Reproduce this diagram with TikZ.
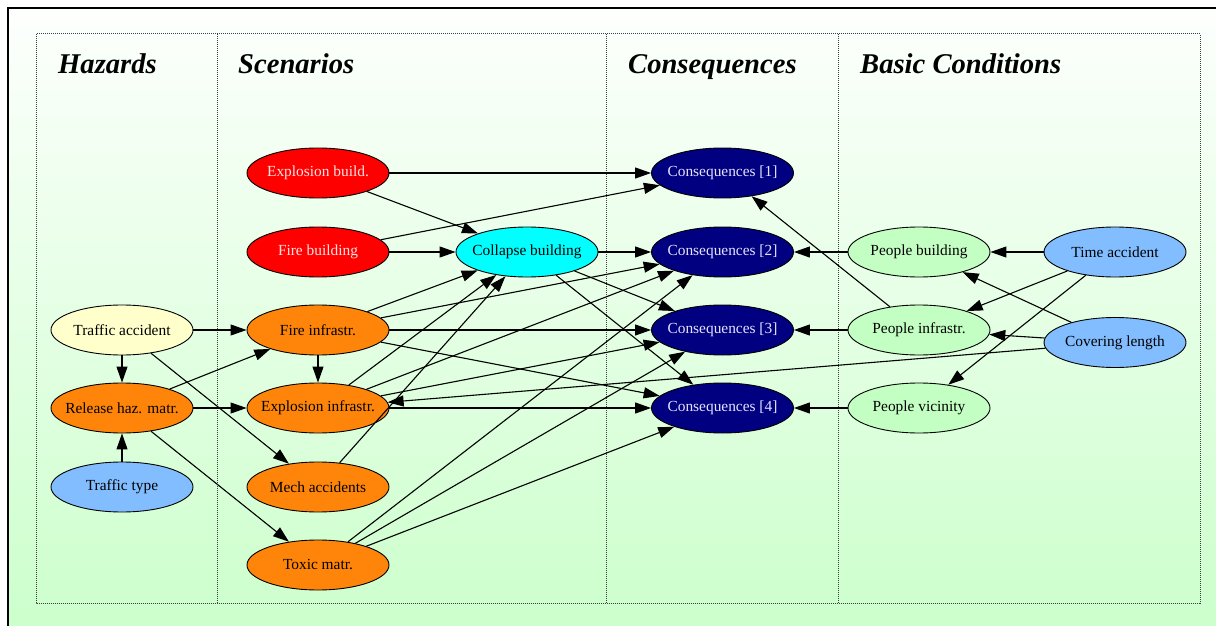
\documentclass[tikz,border=0pt]{standalone}
\usepackage{fontspec}
\setmainfont{Liberation Serif}
\usetikzlibrary{shapes.geometric,arrows.meta}

\definecolor{bgTop}{RGB}{253,255,253}
\definecolor{bgBottom}{RGB}{204,255,204}
\definecolor{cYellow}{RGB}{255,255,204}
\definecolor{cOrange}{RGB}{255,133,10}
\definecolor{cRed}{RGB}{255,0,0}
\definecolor{cBlue}{RGB}{130,190,255}
\definecolor{cCyan}{RGB}{0,255,255}
\definecolor{cNavy}{RGB}{0,0,128}
\definecolor{cGreen}{RGB}{195,255,195}
\definecolor{cLightText}{RGB}{228,228,255}
\definecolor{cPinkText}{RGB}{255,228,228}
\definecolor{cDots}{RGB}{60,60,60}

% zero-width label so every ellipse keeps the same fixed size
\newcommand{\nlabel}[1]{\makebox[0pt][c]{#1}}

\tikzset{
  ball/.style={ellipse, draw=black, line width=0.9pt,
    minimum width=142pt, minimum height=50pt, inner sep=0pt,
    font=\fontsize{15.4}{18}\selectfont},
  yellowball/.style={ball, fill=cYellow},
  orangeball/.style={ball, fill=cOrange},
  redball/.style={ball, fill=cRed, text=cPinkText},
  blueball/.style={ball, fill=cBlue},
  cyanball/.style={ball, fill=cCyan},
  navyball/.style={ball, fill=cNavy, text=cLightText},
  greenball/.style={ball, fill=cGreen},
  arr/.style={-{Triangle[length=16pt,width=11pt]}, line width=1.1pt},
  coltitle/.style={anchor=base west, inner sep=0pt,
    font=\fontsize{28.6}{32}\selectfont\bfseries\itshape},
  colframe/.style={densely dotted, cDots, line width=1pt},
}

\begin{document}
\begin{tikzpicture}[x=1pt,y=-1pt]
\useasboundingbox (0,0) rectangle (1216,626);

% page background and outer frame
\fill[white] (0,0) rectangle (1216,626);
\shade[top color=bgTop, bottom color=bgBottom] (8,8) rectangle (1216,626);
\draw[line width=2pt] (8,626) -- (8,8) -- (1216,8);

% column boxes
\draw[colframe] (36,34) rectangle (1200,603);
\draw[colframe] (217,34) -- (217,603);
\draw[colframe] (606,34) -- (606,603);
\draw[colframe] (838,34) -- (838,603);

% column titles
\node[coltitle] (tHaz) at (58,74) {Hazards};
\node[coltitle] (tScen) at (238,74) {Scenarios};
\node[coltitle] (tCons) at (628,74) {Consequences};
\node[coltitle] (tBasic) at (860,74) {Basic Conditions};

% hazards
\node[yellowball] (ta) at (122,330) {\nlabel{Traffic accident}};
\node[orangeball] (rh) at (122,408) {\nlabel{Release haz. matr.}};
\node[blueball]   (tt) at (122,487) {\nlabel{Traffic type}};

% scenarios
\node[redball]    (eb) at (318,173) {\nlabel{Explosion build.}};
\node[redball]    (fb) at (318,252) {\nlabel{Fire building}};
\node[orangeball] (fi) at (318,330) {\nlabel{Fire infrastr.}};
\node[orangeball] (ei) at (318,408) {\nlabel{Explosion infrastr.}};
\node[orangeball] (ma) at (318,487) {\nlabel{Mech accidents}};
\node[orangeball] (tm) at (318,565) {\nlabel{Toxic matr.}};
\node[cyanball]   (cb) at (527,252) {\nlabel{Collapse building}};

% consequences
\node[navyball] (c1) at (722.5,173) {\nlabel{Consequences [1]}};
\node[navyball] (c2) at (722.5,252) {\nlabel{Consequences [2]}};
\node[navyball] (c3) at (722.5,330) {\nlabel{Consequences [3]}};
\node[navyball] (c4) at (722.5,408) {\nlabel{Consequences [4]}};

% basic conditions
\node[greenball] (pb) at (919,252) {\nlabel{People building}};
\node[greenball] (pi) at (919,330) {\nlabel{People infrastr.}};
\node[greenball] (pv) at (919,408) {\nlabel{People vicinity}};
\node[blueball]  (tac) at (1115,252) {\nlabel{Time accident}};
\node[blueball]  (cl) at (1115,342.5) {\nlabel{Covering length}};

% hazard links
\draw[arr] (ta) -- (fi);
\draw[arr] (ta) -- (rh);
\draw[arr] (ta) -- (ma);
\draw[arr] (tt) -- (rh);
\draw[arr] (rh) -- (fi);
\draw[arr] (rh) -- (ei);
\draw[arr] (rh) -- (tm);

% scenario links
\draw[arr] (eb) -- (c1);
\draw[arr] (eb) -- (cb);
\draw[arr] (fb) -- (c1);
\draw[arr] (fb) -- (cb);
\draw[arr] (fi) -- (cb);
\draw[arr] (fi) -- (c2);
\draw[arr] (fi) -- (c3);
\draw[arr] (fi) -- (c4);
\draw[arr] (fi) -- (ei);
\draw[arr] (ei) -- (cb);
\draw[arr] (ei) -- (c2);
\draw[arr] (ei) -- (c3);
\draw[arr] (ei) -- (c4);
\draw[arr] (ma) -- (cb);
\draw[arr] (tm) -- (c2);
\draw[arr] (tm) -- (c3);
\draw[arr] (tm) -- (c4);
\draw[arr] (cb) -- (c2);
\draw[arr] (cb) -- (c3);
\draw[arr] (cb) -- (c4);

% basic condition links
\draw[arr] (pb) -- (c2);
\draw[arr] (pi) -- (c3);
\draw[arr] (pi) -- (c1);
\draw[arr] (pv) -- (c4);
\draw[arr] (tac) -- (pb);
\draw[arr] (tac) -- (pi);
\draw[arr] (tac) -- (pv);
\draw[arr] (cl) -- (pb);
\draw[arr] (cl) -- (pi);
\draw[arr] (cl) -- (ei);
\end{tikzpicture}
\end{document}
